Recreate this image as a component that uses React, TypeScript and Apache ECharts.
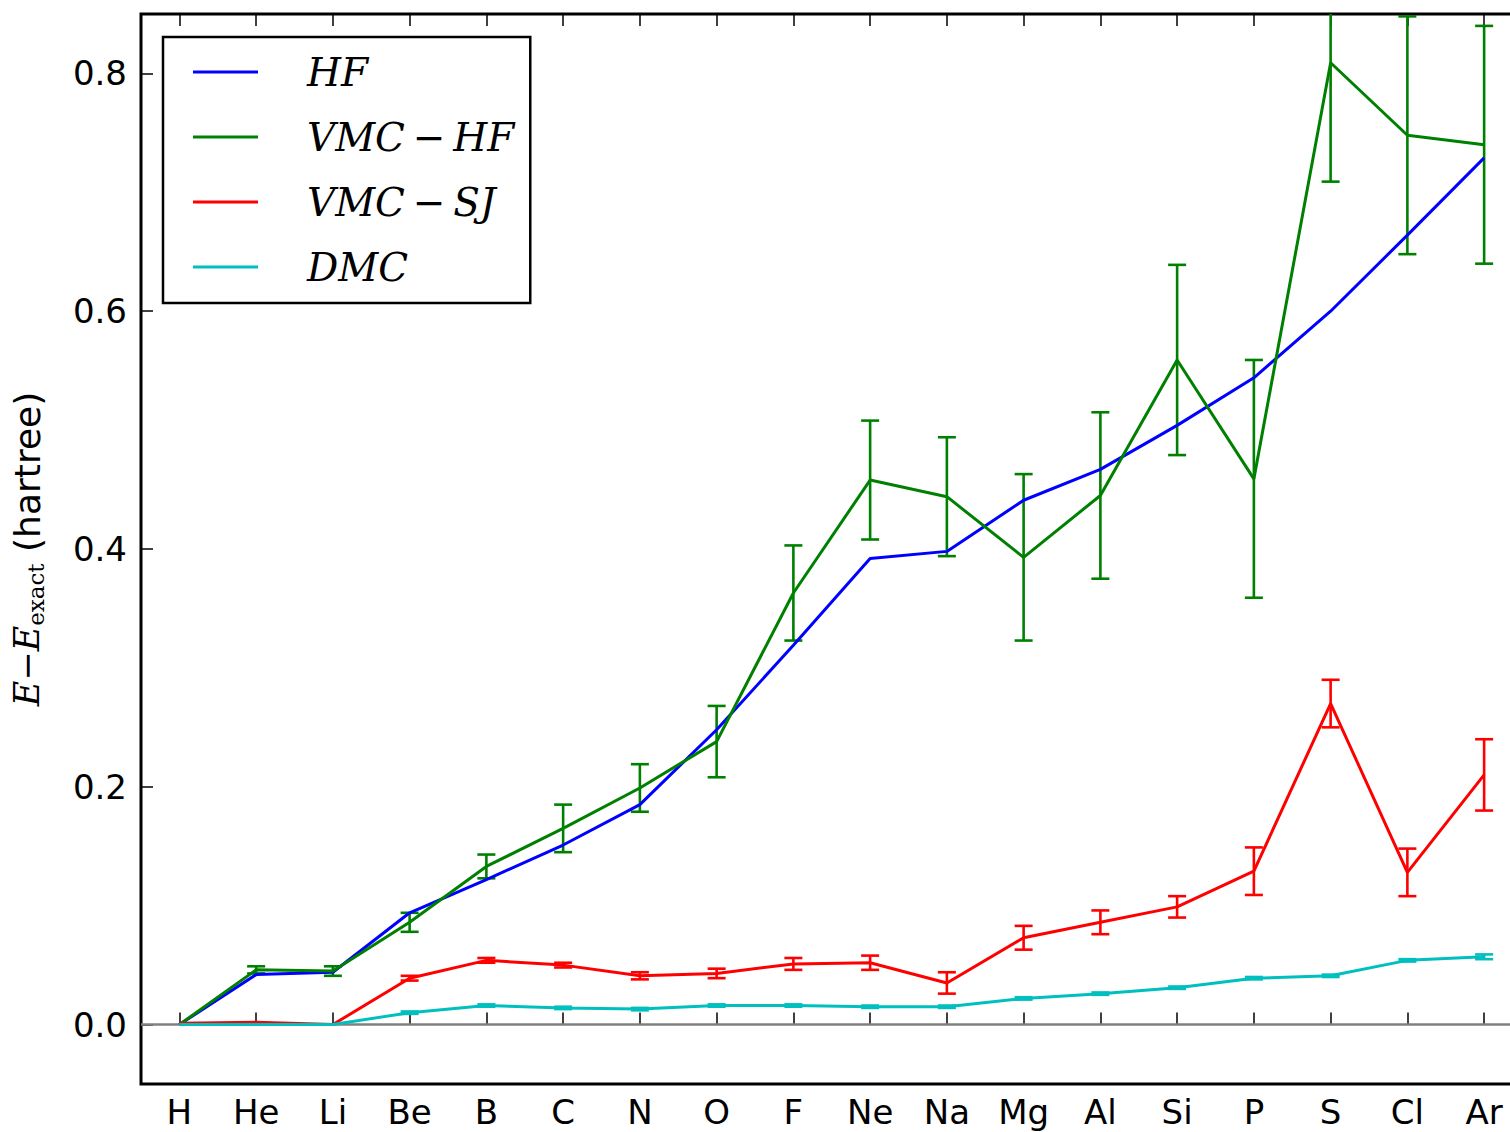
import React, { useEffect, useRef } from "react";
import * as echarts from "echarts";

const elements = ["H", "He", "Li", "Be", "B", "C", "N", "O", "F", "Ne", "Na", "Mg", "Al", "Si", "P", "S", "Cl", "Ar"];
const yTicks = [0, 0.2, 0.4, 0.6, 0.8];

const hf = [0, 0.042, 0.044, 0.094, 0.122, 0.151, 0.185, 0.248, 0.319, 0.392, 0.398, 0.441, 0.467, 0.504, 0.544, 0.6, 0.664, 0.729];
const vmcHf = [0, 0.046, 0.045, 0.086, 0.133, 0.165, 0.199, 0.238, 0.363, 0.458, 0.444, 0.393, 0.445, 0.559, 0.459, 0.809, 0.748, 0.74];
const vmcHfErr = [0, 0.003, 0.004, 0.008, 0.01, 0.02, 0.02, 0.03, 0.04, 0.05, 0.05, 0.07, 0.07, 0.08, 0.1, 0.1, 0.1, 0.1];
const vmcSj = [0.001, 0.002, 0.0, 0.039, 0.054, 0.05, 0.041, 0.043, 0.051, 0.052, 0.035, 0.073, 0.086, 0.099, 0.129, 0.27, 0.128, 0.21];
const vmcSjErr = [0, 0, 0, 0.002, 0.002, 0.002, 0.003, 0.004, 0.005, 0.006, 0.009, 0.01, 0.01, 0.009, 0.02, 0.02, 0.02, 0.03];
const dmc = [0, 0, 0, 0.01, 0.016, 0.014, 0.013, 0.016, 0.016, 0.015, 0.015, 0.022, 0.026, 0.031, 0.039, 0.041, 0.054, 0.057];
const dmcErr = [0, 0, 0, 0.001, 0.001, 0.001, 0.001, 0.001, 0.001, 0.001, 0.001, 0.001, 0.001, 0.001, 0.001, 0.001, 0.001, 0.002];

const Y_MIN = -0.05;
const Y_MAX = 0.85;

const names = ["HF", "VMC\u2212HF", "VMC\u2212SJ", "DMC"];
const colors = ["#0000ff", "#008000", "#ff0000", "#00bfbf"];

function errSeries(name: string, vals: number[], errs: number[], color: string) {
  const data = vals.map((v, i) => [i, v - errs[i], v + errs[i]]);
  return {
    type: "custom",
    name,
    data,
    encode: { x: 0, y: [1, 2] },
    silent: true,
    z: 3,
    renderItem: (params: any, api: any) => {
      const i = api.value(0);
      let lo = api.value(1);
      let hi = api.value(2);
      if (hi - lo <= 0) return null;
      const hiClipped = hi > Y_MAX;
      if (hiClipped) hi = Y_MAX;
      const pLo = api.coord([i, lo]);
      const pHi = api.coord([i, hi]);
      const hw = 9;
      const style = { stroke: color, lineWidth: 2.6, fill: null };
      const children: any[] = [
        { type: "line", shape: { x1: pLo[0], y1: pLo[1], x2: pHi[0], y2: pHi[1] }, style },
        { type: "line", shape: { x1: pLo[0] - hw, y1: pLo[1], x2: pLo[0] + hw, y2: pLo[1] }, style },
      ];
      if (!hiClipped) {
        children.push({ type: "line", shape: { x1: pHi[0] - hw, y1: pHi[1], x2: pHi[0] + hw, y2: pHi[1] }, style });
      }
      return { type: "group", children };
    },
  };
}

function lineSeries(name: string, vals: number[], color: string, extra: any = {}) {
  return {
    type: "line",
    name,
    data: vals,
    symbol: "none",
    showSymbol: false,
    lineStyle: { color, width: 3 },
    itemStyle: { color },
    z: 4,
    ...extra,
  };
}

export default function App() {
  const ref = useRef<HTMLDivElement>(null);
  useEffect(() => {
    if (!ref.current) return;
    const chart = echarts.init(ref.current, null, { renderer: "svg" });
    const option: any = {
      animation: false,
      backgroundColor: "#ffffff",
      grid: {
        show: true,
        left: 141,
        top: 14,
        right: 7.5,
        bottom: 48,
        borderColor: "#000",
        borderWidth: 3,
        backgroundColor: "transparent",
      },
      legend: {
        data: names,
        orient: "vertical",
        left: 163,
        top: 37,
        padding: [15, 16, 16, 30],
        itemGap: 25,
        itemWidth: 65,
        itemHeight: 3,
        icon: "rect",
        borderColor: "#000",
        borderWidth: 2.5,
        backgroundColor: "#fff",
        selectedMode: false,
        formatter: (n: string) => n.replace("\u2212", "\u2009\u2212\u2009"),
        textStyle: {
          fontFamily: "DejaVu Serif",
          fontStyle: "italic",
          fontSize: 39,
          lineHeight: 40,
          color: "#000",
          padding: [0, 0, 0, 44],
        },
        z: 10,
      },
      xAxis: [
        {
          type: "category",
          data: elements,
          boundaryGap: true,
          position: "bottom",
          axisLine: { show: false },
          axisTick: { show: true, inside: true, alignWithLabel: true, length: 12, lineStyle: { color: "#000", width: 1.5 } },
          axisLabel: { fontFamily: "DejaVu Sans", fontSize: 34, color: "#000", margin: 11, interval: 0 },
          splitLine: { show: false },
        },
        {
          type: "category",
          data: elements,
          boundaryGap: true,
          position: "top",
          axisLine: { show: false },
          axisTick: { show: true, inside: true, alignWithLabel: true, length: 12, lineStyle: { color: "#000", width: 1.5 } },
          axisLabel: { show: false },
          splitLine: { show: false },
        },
      ],
      yAxis: {
        type: "value",
        min: Y_MIN,
        max: Y_MAX,
        axisLine: { show: false },
        splitLine: { show: false },
        axisTick: { show: true, inside: true, length: 12, customValues: yTicks, lineStyle: { color: "#000", width: 1.5 } },
        axisLabel: {
          customValues: yTicks,
          formatter: (v: number) => v.toFixed(1),
          fontFamily: "DejaVu Sans",
          fontSize: 34,
          color: "#000",
          margin: 14,
        },
        name: "{e|E\u2212E}{s|exact}{h| (hartree)}",
        nameLocation: "middle",
        nameRotate: 90,
        nameGap: 92,
        nameTextStyle: {
          color: "#000",
          rich: {
            e: { fontFamily: "DejaVu Serif", fontStyle: "italic", fontSize: 35, lineHeight: 44, verticalAlign: "middle", color: "#000" },
            s: { fontFamily: "DejaVu Serif", fontSize: 23, lineHeight: 22, verticalAlign: "bottom", padding: [0, 0, 2, 0], color: "#000" },
            h: { fontFamily: "DejaVu Sans", fontSize: 36, lineHeight: 44, verticalAlign: "middle", color: "#000" },
          },
        },
      },
      series: [
        lineSeries(names[0], hf, colors[0], {
          markLine: {
            silent: true,
            symbol: "none",
            label: { show: false },
            lineStyle: { color: "#808080", width: 2.5, type: "solid" },
            data: [{ yAxis: 0 }],
            z: 1,
          },
        }),
        lineSeries(names[1], vmcHf, colors[1]),
        errSeries("vmchf-err", vmcHf, vmcHfErr, colors[1]),
        lineSeries(names[2], vmcSj, colors[2]),
        errSeries("vmcsj-err", vmcSj, vmcSjErr, colors[2]),
        lineSeries(names[3], dmc, colors[3]),
        errSeries("dmc-err", dmc, dmcErr, colors[3]),
      ],
    };
    chart.setOption(option);
    return () => chart.dispose();
  }, []);
  return (
    <div style={{ position: "fixed", left: 0, top: 0, width: 1510, height: 1132, overflow: "hidden", background: "#fff" }}>
      <div ref={ref} style={{ width: 1530, height: 1132 }} />
    </div>
  );
}
